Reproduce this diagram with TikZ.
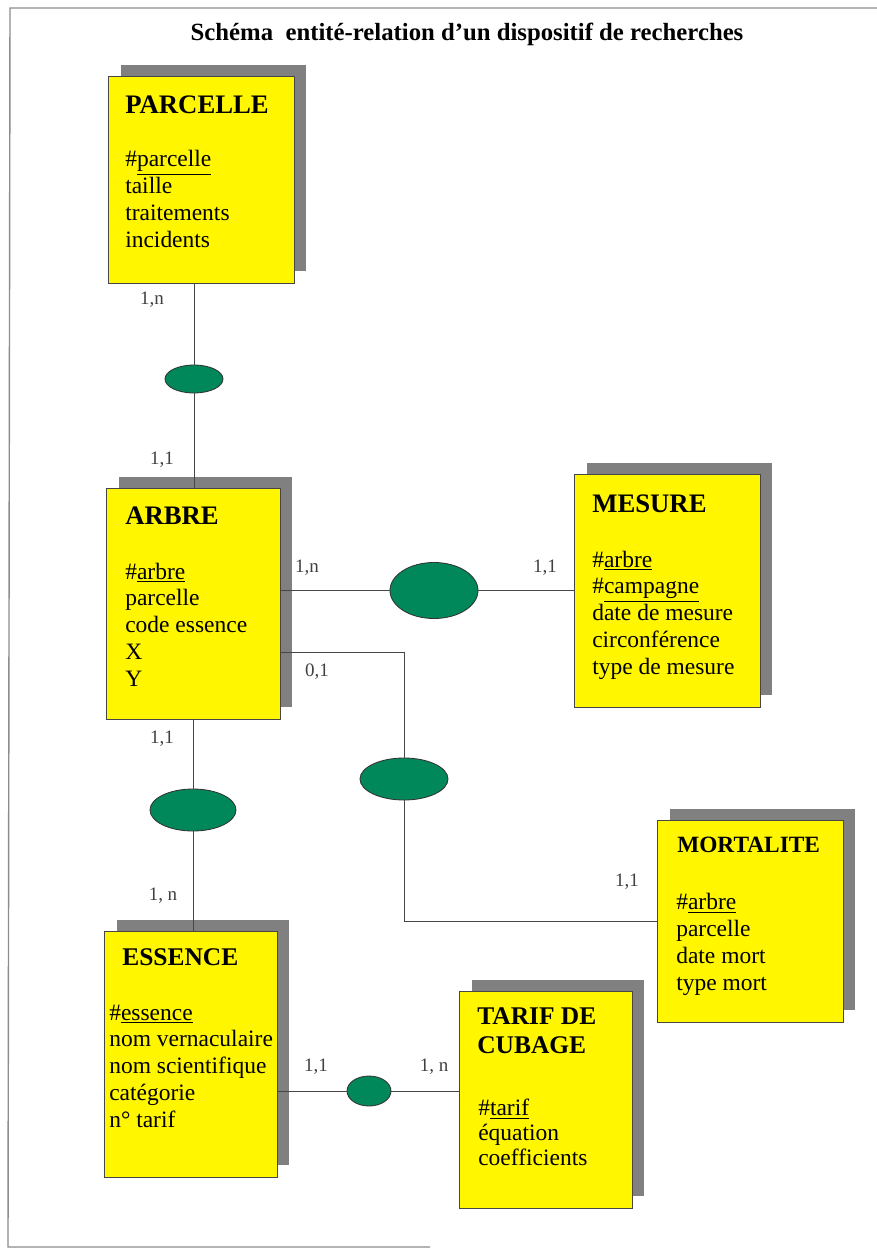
\documentclass[tikz,border=0pt]{standalone}
\usepackage{fontspec}
\setmainfont{Liberation Serif}
\usetikzlibrary{shapes.geometric,shadows}
\definecolor{jaune}{RGB}{255,246,0}
\definecolor{vert}{RGB}{0,135,90}
\definecolor{ombre}{RGB}{128,128,128}
\definecolor{trait}{RGB}{70,70,70}

\begin{document}
\begin{tikzpicture}[x=0.025cm,y=-0.025cm,
  entite/.style={rectangle,draw=trait,line width=0.7pt,fill=jaune,inner sep=0pt,
    drop shadow={shadow xshift=0.3cm,shadow yshift=0.3cm,fill=ombre,opacity=1}},
  titre/.style={anchor=base west,inner sep=0pt,align=left,font=\fontsize{19}{20}\selectfont\bfseries},
  attr/.style={anchor=base west,inner sep=0pt,align=left,font=\fontsize{16.7}{19}\selectfont},
  assoc/.style={ellipse,draw=black!80,fill=vert,line width=0.6pt,inner sep=0pt},
  card/.style={inner sep=0pt,text=black!75,font=\fontsize{13.5}{16}\selectfont},
  lien/.style={draw=trait,line width=0.7pt}]
   \useasboundingbox (0,0) rectangle (876,1250);
   \draw[black!45,line width=1pt] (880,8) -- (10,8) -- (8,1247) -- (430,1247);
   \node[anchor=base,inner sep=0pt,font=\fontsize{17.6}{20}\selectfont\bfseries] (titre) at (467,40)
      {Schéma\ \ entité-relation d'un dispositif de recherches};

   % le point d'ancrage des listes est la ligne de base de la derniere ligne
   \node[entite,minimum width=4.625cm,minimum height=5.15cm] (parcelle) at (201.5,180) {};
   \node[titre] (parcelle-t) at (125,113) {PARCELLE};
   \node[attr] (parcelle-a) at (125,247) {\#\underline{parcelle}\\taille\\traitements\\incidents};

   \node[entite,minimum width=4.325cm,minimum height=5.75cm] (arbre) at (193.5,604) {};
   \node[titre] (arbre-t) at (125,524) {ARBRE};
   \node[attr] (arbre-a) at (125,686) {\#\underline{arbre}\\parcelle\\code essence\\X\\Y};

   \node[entite,minimum width=4.625cm,minimum height=5.8cm] (mesure) at (667.5,591) {};
   \node[titre] (mesure-t) at (592,512) {MESURE};
   \node[attr] (mesure-a) at (592,674) {\#\underline{arbre}\\\#\underline{campagne}\\date de mesure\\circonférence\\type de mesure};

   \node[entite,minimum width=4.625cm,minimum height=5.025cm] (mortalite) at (750.5,921.5) {};
   \node[titre,font=\fontsize{16.6}{20}\selectfont\bfseries] (mortalite-t) at (677,852) {MORTALITE};
   \node[attr] (mortalite-a) at (676,990) {\#\underline{arbre}\\parcelle\\date mort\\type mort};

   \node[entite,minimum width=4.3cm,minimum height=6.125cm] (essence) at (191,1054.5) {};
   \node[titre,font=\fontsize{18.1}{20}\selectfont\bfseries] (essence-t) at (122,965) {ESSENCE};
   \node[attr] (essence-a) at (109,1127) {\#\underline{essence}\\nom vernaculaire\\nom scientifique\\catégorie\\n° tarif};

   \node[entite,minimum width=4.3cm,minimum height=5.4cm] (tarif) at (546,1100) {};
   \node[titre,font=\fontsize{18.1}{20}\selectfont\bfseries] (tarif-t) at (477,1053) {TARIF DE\\CUBAGE};
   \node[attr,font=\fontsize{16.7}{17.5}\selectfont] (tarif-a) at (478,1165) {\#\underline{tarif}\\équation\\coefficients};

   \node[assoc,minimum width=1.45cm,minimum height=0.7cm] (a1) at (194,379) {};
   \node[assoc,minimum width=2.2cm,minimum height=1.4cm] (a2) at (434,590.5) {};
   \node[assoc,minimum width=2.2cm,minimum height=1.05cm] (a3) at (404,779) {};
   \node[assoc,minimum width=2.15cm,minimum height=1.05cm] (a4) at (193,810) {};
   \node[assoc,minimum width=1.1cm,minimum height=0.75cm] (a5) at (369,1091) {};
   \coordinate (k1) at (404,652);

   \draw[lien] (a1 |- parcelle.south) -- (a1.north) (a1.south) -- (a1 |- arbre.north);
   \draw[lien] (a2 -| arbre.east) -- (a2.west) (a2.east) -- (a2 -| mesure.west);
   \draw[lien] (arbre.east |- k1) -- (k1) -- (a3.north) (a3.south) |- (mortalite.west);
   \draw[lien] (a4 |- arbre.south) -- (a4.north) (a4.south) -- (a4 |- essence.north);
   \draw[lien] (a5 -| essence.east) -- (a5.west) (a5.east) -- (a5 -| tarif.west);

   \node[card] (c1) at (152,300) {1,n};
   \node[card] (c2) at (162,460) {1,1};
   \node[card] (c3) at (307,568) {1,n};
   \node[card] (c4) at (545,568) {1,1};
   \node[card] (c5) at (317,672) {0,1};
   \node[card] (c6) at (162,739) {1,1};
   \node[card] (c7) at (163,896) {1, n};
   \node[card] (c8) at (627,882) {1,1};
   \node[card] (c9) at (316,1067) {1,1};
   \node[card] (c10) at (434,1067) {1, n};
\end{tikzpicture}
\end{document}
